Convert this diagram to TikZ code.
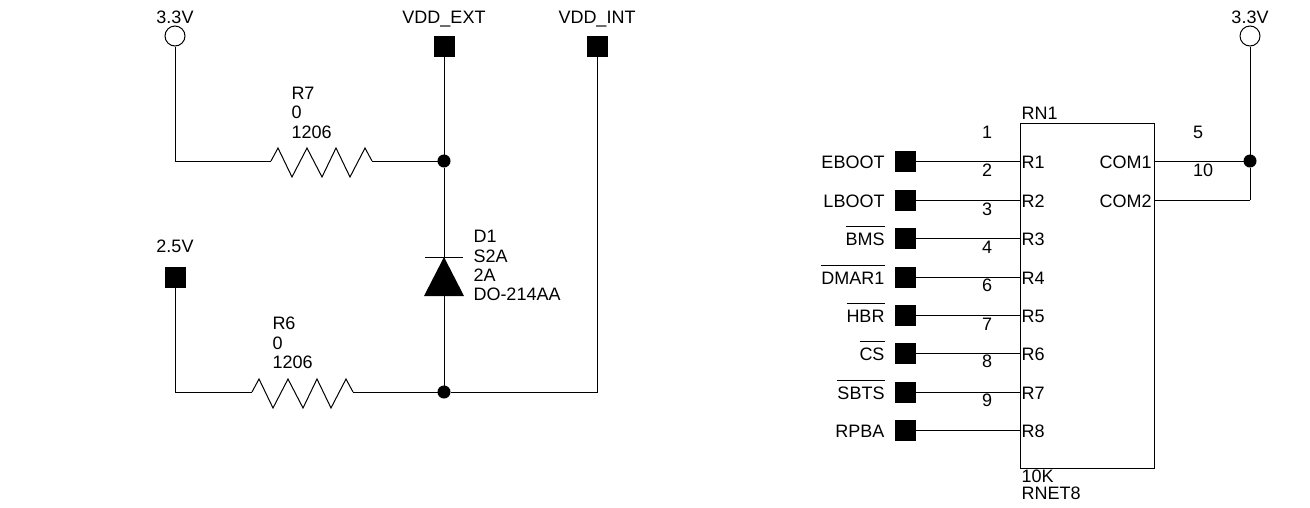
\documentclass[tikz,border=0pt]{standalone}
\usepackage{fontspec}
\setmainfont{Liberation Sans}
\usepackage{tikz}
\newcommand{\barred}[1]{$\overline{\mbox{\rule{0pt}{17pt}#1}}$}
\tikzset{
	txt/.style={inner sep=0pt, anchor=base west, font=\fontsize{18}{18}\selectfont},
	txtr/.style={txt, anchor=base east},
	txtc/.style={txt, anchor=base},
	port/.style={draw, fill=black, minimum size=20pt, inner sep=0pt},
	supply/.style={draw, circle, fill=white, minimum size=20pt, inner sep=0pt},
	junction/.style={draw, circle, fill=black, minimum size=12pt, inner sep=0pt},
	zig/.style={to path={-- ++(7,-13) -- ++(14,29) -- ++(15,-29) -- ++(15,29) -- ++(14,-29) -- ++(14,29) -- ++(15,-29) -- (\tikztotarget)}}
}
\begin{document}
\begin{tikzpicture}[x=1pt, y=-1pt, line width=1pt]
	\useasboundingbox (0, 0) rectangle (1310, 507);

	% left circuit
	\node[supply] (vcca) at (175, 36) {};
	\node[txtc] (vccatxt) at (175, 23) {3.3V};
	\node[port] (ext) at (444, 46) {};
	\node[txtc] (exttxt) at (444, 23) {VDD\_EXT};
	\node[port] (int) at (597, 46) {};
	\node[txtc] (inttxt) at (597, 23) {VDD\_INT};
	\node[port] (vin) at (175, 277) {};
	\node[txtc] (vintxt) at (175, 252) {2.5V};
	\node[junction] (ja) at (444, 161) {};
	\node[junction] (jb) at (444, 392) {};
	\coordinate (r7l) at (271, 161);
	\coordinate (r7r) at (372, 161);
	\coordinate (r6l) at (252, 392);
	\coordinate (r6r) at (353, 392);

	\draw (vcca) |- (r7l);
	\draw (r7l) to[zig] (r7r);
	\draw (r7r) -- (ja);
	\draw (vin) |- (r6l);
	\draw (r6l) to[zig] (r6r);
	\draw (r6r) -- (jb);
	\draw (ext) -- (ja);
	\draw (ja) -- (jb);
	\draw (int) |- (jb);

	% diode
	\coordinate (dtop) at (444, 257);
	\draw (425, 257) -- (463, 257);
	\fill (dtop) -- (464, 296) -- (424, 296) -- cycle;

	\node[txt] (r7a) at (291, 99) {R7};
	\node[txt] (r7b) at (291, 118) {0};
	\node[txt] (r7c) at (291, 138) {1206};
	\node[txt] (r6a) at (272, 329) {R6};
	\node[txt] (r6b) at (272, 349) {0};
	\node[txt] (r6c) at (272, 368) {1206};
	\node[txt] (d1a) at (473, 242) {D1};
	\node[txt] (d1b) at (473, 262) {S2A};
	\node[txt] (d1c) at (473, 281) {2A};
	\node[txt] (d1d) at (473, 300) {DO-214AA};

	% resistor network
	\node[draw, minimum width=134pt, minimum height=345pt, inner sep=0pt] (rn) at (1087, 295.5) {};
	\node[txt] (rntop) at (1021, 119) {RN1};
	\node[txt] (rnval) at (1021, 482) {10K};
	\node[txt] (rnpkg) at (1021, 499) {RNET8};

	\node[port] (pa) at (905, 161) {};
	\node[port] (pb) at (905, 200) {};
	\node[port] (pc) at (905, 238) {};
	\node[port] (pd) at (905, 277) {};
	\node[port] (pe) at (905, 315) {};
	\node[port] (pf) at (905, 353) {};
	\node[port] (pg) at (905, 392) {};
	\node[port] (ph) at (905, 430) {};
	\draw (pa) -- (pa -| rn.west);
	\draw (pb) -- (pb -| rn.west);
	\draw (pc) -- (pc -| rn.west);
	\draw (pd) -- (pd -| rn.west);
	\draw (pe) -- (pe -| rn.west);
	\draw (pf) -- (pf -| rn.west);
	\draw (pg) -- (pg -| rn.west);
	\draw (ph) -- (ph -| rn.west);

	\node[txtr] (la) at (885, 168) {EBOOT};
	\node[txtr] (lb) at (885, 207) {LBOOT};
	\node[txtr] (lc) at (885, 245) {\barred{BMS}};
	\node[txtr] (ld) at (885, 284) {\barred{DMAR1}};
	\node[txtr] (le) at (885, 322) {\barred{HBR}};
	\node[txtr] (lf) at (885, 360) {\barred{CS}};
	\node[txtr] (lg) at (885, 399) {\barred{SBTS}};
	\node[txtr] (lh) at (885, 437) {RPBA};

	\node[txt] (ra) at (1021, 168) {R1};
	\node[txt] (rb) at (1021, 207) {R2};
	\node[txt] (rc) at (1021, 245) {R3};
	\node[txt] (rd) at (1021, 284) {R4};
	\node[txt] (re) at (1021, 322) {R5};
	\node[txt] (rf) at (1021, 360) {R6};
	\node[txt] (rg) at (1021, 399) {R7};
	\node[txt] (rh) at (1021, 437) {R8};

	\node[txtc] (na) at (987, 138) {1};
	\node[txtc] (nb) at (987, 176) {2};
	\node[txtc] (nc) at (987, 215) {3};
	\node[txtc] (nd) at (987, 253) {4};
	\node[txtc] (ne) at (987, 291) {6};
	\node[txtc] (nf) at (987, 330) {7};
	\node[txtc] (ng) at (987, 367) {8};
	\node[txtc] (nh) at (987, 406) {9};
	\node[txtc] (ni) at (1198, 138) {5};
	\node[txtc] (nj) at (1203, 176) {10};

	\node[txtr] (coma) at (1152, 168) {COM1};
	\node[txtr] (comb) at (1152, 207) {COM2};
	\node[supply] (vccb) at (1250, 36) {};
	\node[txtc] (vccbtxt) at (1250, 23) {3.3V};
	\node[junction] (jc) at (1250, 161) {};
	\coordinate (comc) at (1250, 200);
	\draw (vccb) -- (jc);
	\draw (jc) -- (comc);
	\draw (jc) -- (jc -| rn.east);
	\draw (comc) -- (comc -| rn.east);
\end{tikzpicture}
\end{document}
